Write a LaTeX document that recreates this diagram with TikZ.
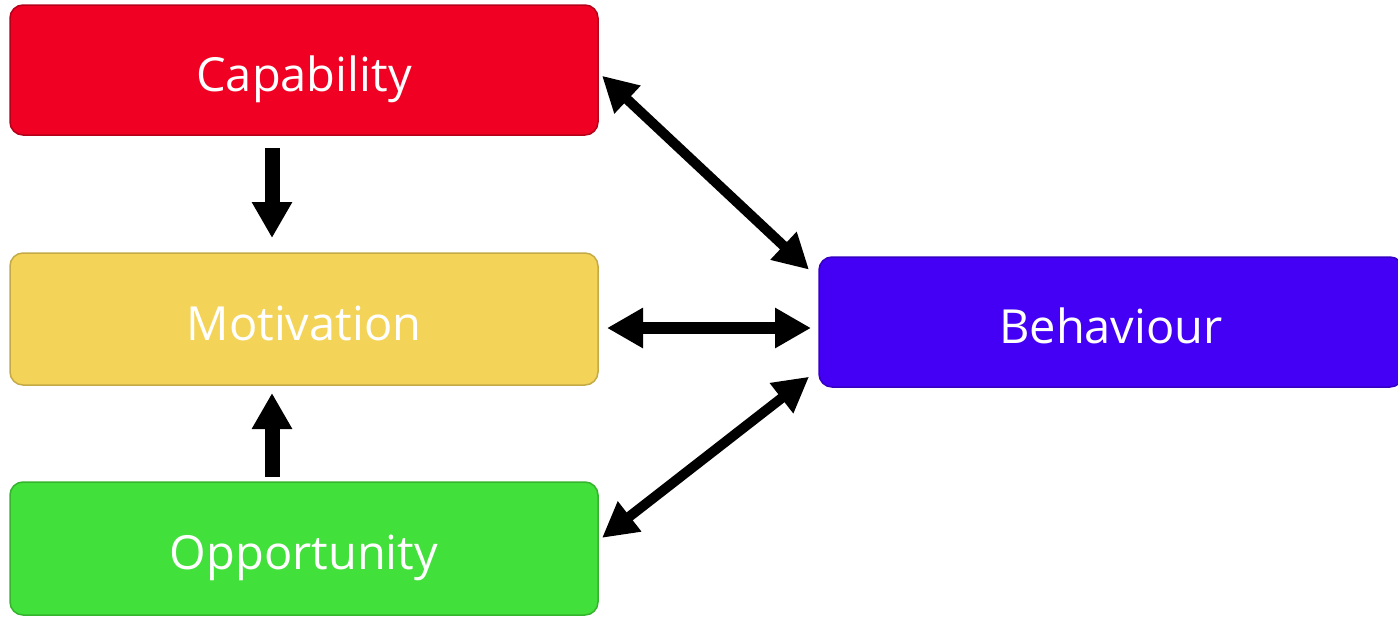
\documentclass[tikz,border=0pt]{standalone}
\usepackage{fontspec}
\setmainfont{Open Sans}
\usetikzlibrary{arrows.meta}
\definecolor{capred}{HTML}{F00022}
\definecolor{motyellow}{HTML}{F4D458}
\definecolor{oppgreen}{HTML}{42E03A}
\definecolor{behblue}{HTML}{4400F5}
\tikzset{
  boxnode/.style={rectangle, rounded corners=13pt, line width=1.5pt,
    minimum width=588pt, minimum height=130pt, inner sep=0pt, outer sep=0pt,
    text=white, font=\fontsize{47}{56}\selectfont,
    text height=42pt, text depth=0pt},
  vert/.style={line width=15pt, {Triangle[length=36pt,width=38pt]}-},
  horiz/.style={line width=12pt, {Triangle[length=36pt,width=38pt]}-{Triangle[length=36pt,width=38pt]}},
  diag/.style={line width=10pt, {Triangle[length=35pt,width=36pt]}-{Triangle[length=35pt,width=36pt]}}
}
\begin{document}
\begin{tikzpicture}[x=1pt,y=-1pt]
\useasboundingbox (0,0) rectangle (1398,616);
\node[boxnode, fill=capred, draw=capred!75!black, minimum height=130pt] (cap) at (304,70) {Capability};
\node[boxnode, fill=motyellow, draw=motyellow!80!black, minimum height=132pt] (mot) at (304,319) {Motivation};
\node[boxnode, fill=oppgreen, draw=oppgreen!80!black, minimum height=133pt] (opp) at (304,548.5) {Opportunity};
\node[boxnode, fill=behblue, draw=behblue!80!black, minimum width=584pt, minimum height=130pt] (beh) at (1111,322) {Behaviour};
% vertical arrows
\draw[vert] ([xshift=-32pt,yshift=15pt]mot.north) -- ([xshift=-32pt,yshift=-13pt]cap.south);
\draw[vert] ([xshift=-32pt,yshift=-8pt]mot.south) -- ([xshift=-32pt,yshift=5pt]opp.north);
% horizontal double arrow
\draw[horiz, shorten <=9pt, shorten >=8pt] ([yshift=-9pt]mot.east) -- ([yshift=-6pt]beh.west);
% diagonal double arrows
\draw[diag, shorten <=5.5pt, shorten >=13.7pt] ([yshift=-2pt]cap.east) -- ([yshift=43pt]beh.west);
\draw[diag, shorten <=5.1pt, shorten >=12.6pt] ([yshift=7.5pt]opp.east) -- ([yshift=-47pt]beh.west);
\end{tikzpicture}
\end{document}
